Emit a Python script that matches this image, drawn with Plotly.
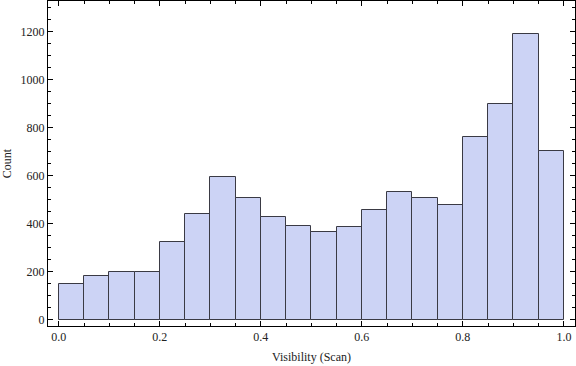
import plotly.graph_objects as go

bin_starts = [0.00, 0.05, 0.10, 0.15, 0.20, 0.25, 0.30, 0.35, 0.40, 0.45,
              0.50, 0.55, 0.60, 0.65, 0.70, 0.75, 0.80, 0.85, 0.90, 0.95]
counts = [150, 183, 200, 200, 325, 442, 596, 508, 429, 392,
          367, 388, 458, 533, 508, 479, 762, 900, 1192, 704]
bin_width = 0.05
x_title = "Visibility (Scan)"
y_title = "Count"

centers = [s + bin_width / 2 for s in bin_starts]

fig = go.Figure(go.Bar(
    x=centers, y=counts, width=[bin_width] * len(counts),
    marker=dict(color="#CCD3F5", line=dict(color="#3a3a44", width=1)),
))

font = dict(family="Liberation Serif, Times New Roman, serif", size=12, color="#222")
axis_common = dict(
    showgrid=False, zeroline=False, showline=True, linecolor="black", linewidth=1,
    mirror="allticks", ticks="inside", ticklen=5, tickcolor="black", tickwidth=1,
    tickfont=font,
)
fig.update_xaxes(range=[-0.0214, 1.022], tick0=0, dtick=0.2, tickformat=".1f",
                 minor=dict(ticks="inside", dtick=0.05, ticklen=3, tickcolor="black"),
                 title=dict(text=x_title, font=font, standoff=9), **axis_common)
fig.update_yaxes(range=[-26.7, 1328], tick0=0, dtick=200,
                 minor=dict(ticks="inside", dtick=50, ticklen=3, tickcolor="black"),
                 title=dict(text=y_title, font=font, standoff=6), **axis_common)
fig.update_layout(
    width=576, height=366, margin=dict(l=48, r=1, t=1, b=40),
    plot_bgcolor="white", paper_bgcolor="white", showlegend=False,
    bargap=0, font=font,
)
fig.write_html("out.html", config={"displayModeBar": False},
               post_script="document.body.style.margin='0';document.body.style.padding='0';document.body.style.overflow='hidden';")
